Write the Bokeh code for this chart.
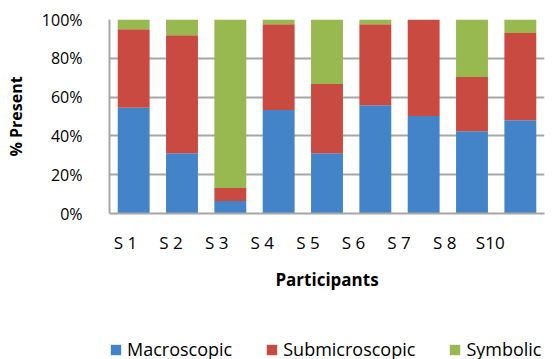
from bokeh.plotting import figure
from bokeh.layouts import column
from bokeh.models import (ColumnDataSource, Range1d, LinearAxis, FixedTicker,
                          Legend, LegendItem, PrintfTickFormatter)
from bokeh.embed import file_html
from bokeh.resources import INLINE

participants = ["S 1", "S 2", "S 3", "S 4", "S 5", "S 6", "S 7", "S 8", "S10"]
macroscopic = [54.5, 31.1, 6.4, 53.4, 31.1, 55.8, 50.2, 42.4, 48.1]
submicroscopic = [40.5, 60.8, 6.7, 44.2, 35.7, 41.8, 49.8, 27.9, 44.9]
symbolic = [5.0, 8.1, 86.9, 2.4, 33.2, 2.4, 0.0, 29.7, 7.0]
series_names = ["Macroscopic", "Submicroscopic", "Symbolic"]
y_ticks = [0, 20, 40, 60, 80, 100]

colors = ["#4384c8", "#c94a40", "#98b94f"]
FONT = "Open Sans"
GRID = "#a6a6a6"

n = len(participants)
idx = list(range(n))
src = ColumnDataSource(dict(x=idx, macro=macroscopic, sub=submicroscopic, sym=symbolic))

p = figure(width=555, height=330, x_range=Range1d(-0.5, n - 0.5),
           y_range=Range1d(0, 100), output_backend="svg", toolbar_location=None,
           min_border_left=109, min_border_right=11, min_border_top=19, min_border_bottom=117)
p.outline_line_color = None
p.background_fill_color = "white"

rs = p.vbar_stack(["macro", "sub", "sym"], x="x", width=0.66, color=colors, line_color=None, source=src)

# y axis
p.yaxis.ticker = FixedTicker(ticks=y_ticks)
p.yaxis.formatter = PrintfTickFormatter(format="%d%%")
p.yaxis.major_tick_line_color = None
p.yaxis.minor_tick_line_color = None
p.yaxis.axis_line_color = GRID
p.yaxis.axis_line_width = 2
p.yaxis.major_label_text_font = FONT
p.yaxis.major_label_text_font_size = "16px"
p.yaxis.major_label_text_color = "black"
p.yaxis.major_label_standoff = 21
p.yaxis.axis_label = "% Present"
p.yaxis.axis_label_text_font = FONT
p.yaxis.axis_label_text_font_style = "bold"
p.yaxis.axis_label_text_font_size = "16px"
p.yaxis.axis_label_text_color = "black"
p.yaxis.axis_label_standoff = 12

p.ygrid.ticker = FixedTicker(ticks=y_ticks)
p.ygrid.grid_line_color = GRID
p.ygrid.grid_line_width = 2
p.xgrid.grid_line_color = None

# hide default axis, use label axis
p.xaxis.visible = False
p.extra_x_ranges = {"lbl": Range1d(-0.351, 9.19)}
lab_axis = LinearAxis(x_range_name="lbl", ticker=FixedTicker(ticks=idx),
                      major_label_overrides={i: participants[i] for i in idx})
lab_axis.major_tick_line_color = None
lab_axis.minor_tick_line_color = None
lab_axis.axis_line_color = GRID
lab_axis.axis_line_width = 2
lab_axis.major_label_text_font = FONT
lab_axis.major_label_text_font_size = "17px"
lab_axis.major_label_text_color = "black"
lab_axis.major_label_standoff = 11
lab_axis.axis_label = "Participants"
lab_axis.axis_label_text_font = FONT
lab_axis.axis_label_text_font_style = "bold"
lab_axis.axis_label_text_font_size = "17px"
lab_axis.axis_label_text_color = "black"
lab_axis.axis_label_standoff = 11
p.add_layout(lab_axis, "below")

# legend strip (legend renderers mirror the bars; their y range keeps them out of view)
lf = figure(width=555, height=29, x_range=Range1d(-0.5, n - 0.5), y_range=Range1d(1000, 1001),
            output_backend="svg", toolbar_location=None, min_border=0)
lf.axis.visible = False
lf.grid.grid_line_color = None
lf.outline_line_color = None
lrs = lf.vbar_stack(["macro", "sub", "sym"], x="x", width=0.66, color=colors, line_color=None, source=src)
legend = Legend(items=[LegendItem(label=series_names[i], renderers=[lrs[i]]) for i in range(3)],
                orientation="horizontal", location=(0, -2),
                label_text_font=FONT, label_text_font_size="18px", label_text_color="black",
                glyph_width=13, glyph_height=13, label_standoff=5, spacing=33,
                padding=0, margin=0, border_line_color=None, background_fill_alpha=0)
lf.add_layout(legend, "center")

layout = column(p, lf, spacing=0)
open("out.html", "w").write(file_html(layout, INLINE))
